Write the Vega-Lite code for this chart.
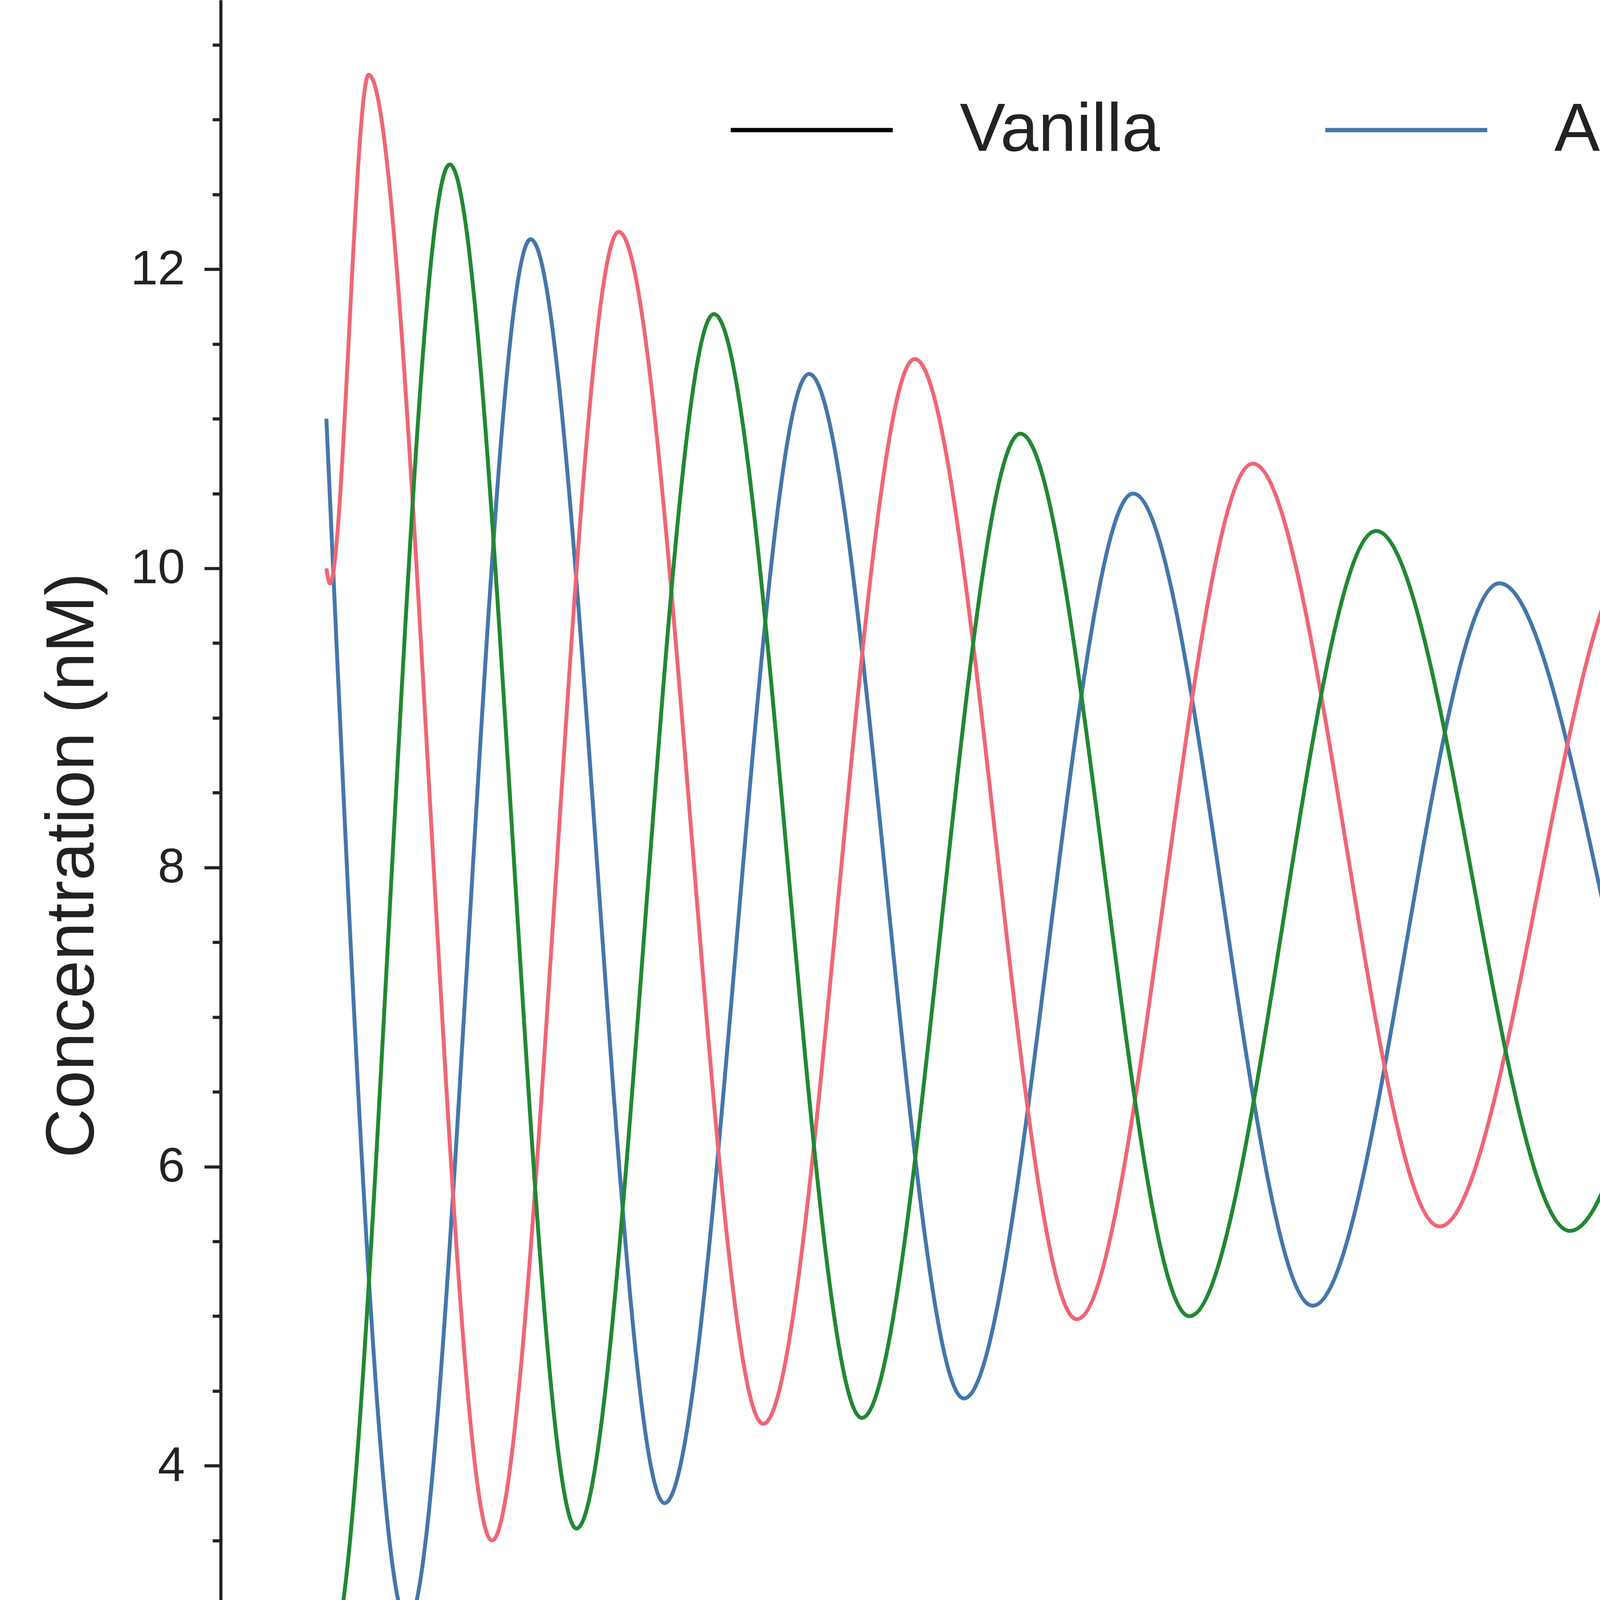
{
  "$schema": "https://vega.github.io/schema/vega-lite/v6.json",
  "width": 5952,
  "height": 4430,
  "autosize": {"type": "none"},
  "padding": {"left": 565, "top": 0, "right": 0, "bottom": 537},
  "background": "white",
  "config": {
    "view": {"stroke": null},
    "font": "Liberation Sans",
    "axis": {
      "domainColor": "#222222", "domainWidth": 8, "tickColor": "#222222", "tickWidth": 8,
      "labelFont": "Liberation Sans", "labelFontSize": 125, "labelColor": "#222222", "labelLimit": 0,
      "titleFont": "Liberation Sans", "titleFontSize": 175, "titleFontWeight": "normal", "titleColor": "#222222",
      "titleLimit": 0,
      "grid": false
    }
  },
  "data": {
    "values": [
      {"t": 0, "c": 11.0, "s": "A"}, {"t": 2.3, "c": 2.95, "s": "A"}, {"t": 5.8, "c": 12.2, "s": "A"},
      {"t": 9.6, "c": 3.75, "s": "A"}, {"t": 13.7, "c": 11.3, "s": "A"}, {"t": 18.1, "c": 4.45, "s": "A"},
      {"t": 22.9, "c": 10.5, "s": "A"}, {"t": 28.0, "c": 5.07, "s": "A"}, {"t": 33.3, "c": 9.9, "s": "A"},
      {"t": 39.2, "c": 5.6, "s": "A"}, {"t": 45.4, "c": 9.4, "s": "A"}, {"t": 52.0, "c": 6.05, "s": "A"},
      {"t": 58.8, "c": 9.0, "s": "A"}, {"t": 60, "c": 8.78, "s": "A"},
      {"t": 0, "c": 10.0, "s": "B"}, {"t": 0.1, "c": 9.9, "s": "B"}, {"t": 1.2, "c": 13.3, "s": "B"},
      {"t": 4.7, "c": 3.5, "s": "B"}, {"t": 8.3, "c": 12.25, "s": "B"}, {"t": 12.4, "c": 4.28, "s": "B"},
      {"t": 16.7, "c": 11.4, "s": "B"}, {"t": 21.3, "c": 4.98, "s": "B"}, {"t": 26.3, "c": 10.7, "s": "B"},
      {"t": 31.6, "c": 5.6, "s": "B"}, {"t": 37.2, "c": 10.1, "s": "B"}, {"t": 43.3, "c": 6.12, "s": "B"},
      {"t": 49.7, "c": 9.65, "s": "B"}, {"t": 56.5, "c": 6.52, "s": "B"}, {"t": 60, "c": 7.88, "s": "B"},
      {"t": 0, "c": 3.0, "s": "C"}, {"t": 0.1, "c": 2.75, "s": "C"}, {"t": 3.5, "c": 12.7, "s": "C"},
      {"t": 7.1, "c": 3.58, "s": "C"}, {"t": 11.0, "c": 11.7, "s": "C"}, {"t": 15.2, "c": 4.32, "s": "C"},
      {"t": 19.7, "c": 10.9, "s": "C"}, {"t": 24.5, "c": 5.0, "s": "C"}, {"t": 29.8, "c": 10.25, "s": "C"},
      {"t": 35.3, "c": 5.57, "s": "C"}, {"t": 41.3, "c": 9.7, "s": "C"}, {"t": 47.6, "c": 6.03, "s": "C"},
      {"t": 54.2, "c": 9.27, "s": "C"}, {"t": 60, "c": 6.57, "s": "C"}
    ]
  },
  "mark": {"type": "line", "interpolate": "monotone", "strokeWidth": 10},
  "encoding": {
    "x": {
      "field": "t", "type": "quantitative", "title": "Time (hours)",
      "scale": {"domain": [-3, 63], "nice": false, "zero": false},
      "axis": {"values": [0, 10, 20, 30, 40, 50, 60], "format": "d", "tickSize": 42, "labelPadding": 40, "titlePadding": 40}
    },
    "y": {
      "field": "c", "type": "quantitative", "title": "Concentration (nM)",
      "scale": {"domain": [2.23, 13.8], "nice": false, "zero": false},
      "axis": {
        "values": [2.5, 3, 3.5, 4, 4.5, 5, 5.5, 6, 6.5, 7, 7.5, 8, 8.5, 9, 9.5, 10, 10.5, 11, 11.5, 12, 12.5, 13, 13.5],
        "labelExpr": "datum.value % 2 == 0 ? format(datum.value, 'd') : ''",
        "tickSize": {"expr": "datum.value % 2 == 0 ? 42 : 21"},
        "labelPadding": 50, "titlePadding": 90
      }
    },
    "color": {
      "field": "s", "type": "nominal", "title": null,
      "scale": {"domain": ["Vanilla", "A", "B", "C"], "range": ["#000000", "#4477aa", "#ee6677", "#228833"]},
      "legend": {
        "orient": "none", "legendX": 1300, "legendY": 120, "direction": "horizontal",
        "symbolType": "stroke", "symbolSize": 172000, "symbolStrokeWidth": 11,
        "labelFontSize": 175, "labelFont": "Liberation Sans", "labelColor": "#222222", "labelLimit": 0,
        "labelOffset": 166, "columnPadding": 400, "symbolOffset": 0
      }
    }
  }
}
